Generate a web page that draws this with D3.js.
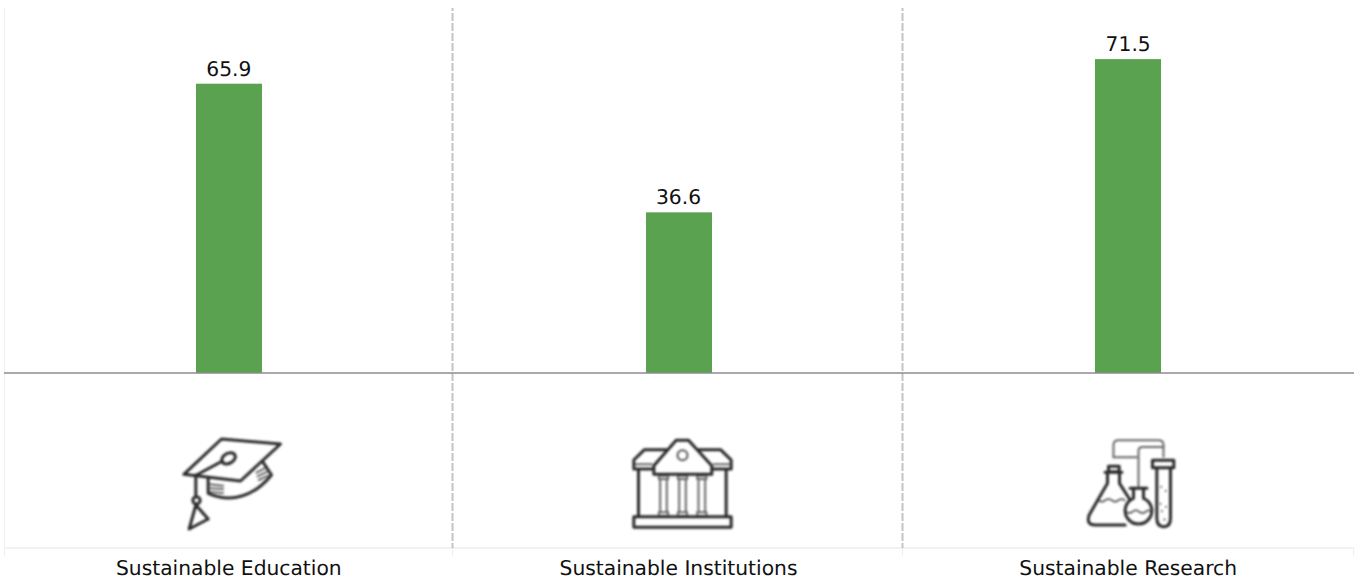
<!DOCTYPE html>
<html>
<head>
<meta charset="utf-8">
<script src="https://cdnjs.cloudflare.com/ajax/libs/d3/7.8.5/d3.min.js"></script>
<style>
  html, body { margin: 0; padding: 0; background: #fff; }
  svg { display: block; }
  text { font-family: "DejaVu Sans", sans-serif; font-size: 20.25px; fill: #111; text-rendering: geometricPrecision; }
</style>
</head>
<body>
<script>
const categories = ["Sustainable Education", "Sustainable Institutions", "Sustainable Research"];
const values = [65.9, 36.6, 71.5];

const width = 1356, height = 583;
const baseY = 373;

const svg = d3.select("body").append("svg").attr("width", width).attr("height", height);

const xScale = d3.scaleBand().domain(categories).range([4, 1353]);
const yScale = d3.scaleLinear().domain([0, 100]).range([baseY, baseY - 439]);
const barWidth = 66;
const centre = d => xScale(d) + xScale.bandwidth() / 2;

// slight blur, the icons in the original are scaled up bitmaps
svg.append("defs").append("filter").attr("id", "soft")
  .append("feGaussianBlur").attr("stdDeviation", 2.4);

// faint frame
svg.append("line").attr("x1", 4.5).attr("x2", 4.5).attr("y1", 8).attr("y2", 556)
  .style("stroke", "#efefef").style("stroke-width", 1);
svg.append("line").attr("x1", 4).attr("x2", 1354).attr("y1", 548).attr("y2", 548)
  .style("stroke", "#f2f2f2").style("stroke-width", 2);
svg.selectAll("line.stub")
  .data(categories.slice(1))
  .enter()
  .append("line")
  .attr("class", "stub")
  .attr("x1", d => Math.floor(xScale(d)) - 0.5)
  .attr("x2", d => Math.floor(xScale(d)) - 0.5)
  .attr("y1", 548)
  .attr("y2", 556)
  .style("stroke", "#efefef")
  .style("stroke-width", 1);
svg.append("line").attr("x1", 1353.5).attr("x2", 1353.5).attr("y1", 548).attr("y2", 556)
  .style("stroke", "#efefef").style("stroke-width", 1);

// dashed dividers
svg.selectAll("line.divider")
  .data(categories.slice(1))
  .enter()
  .append("line")
  .attr("class", "divider")
  .attr("x1", d => Math.floor(xScale(d)) - 0.5)
  .attr("x2", d => Math.floor(xScale(d)) - 0.5)
  .attr("y1", 8)
  .attr("y2", 548)
  .style("stroke", "#c4c4c4")
  .style("stroke-width", 2)
  .style("stroke-dasharray", "8,2")
  .style("stroke-dashoffset", 5);

// bars
svg.selectAll("rect.bar")
  .data(categories)
  .enter()
  .append("rect")
  .attr("class", "bar")
  .attr("x", d => Math.round(centre(d) - barWidth / 2))
  .attr("width", barWidth)
  .attr("y", (d, i) => yScale(values[i]))
  .attr("height", (d, i) => baseY - yScale(values[i]))
  .style("fill", "#5aa250");

// baseline
svg.append("line").attr("x1", 4).attr("x2", 1354).attr("y1", baseY).attr("y2", baseY)
  .style("stroke", "#8c8c8c").style("stroke-width", 1.5);

// value labels
svg.selectAll("text.value")
  .data(categories)
  .enter()
  .append("text")
  .attr("class", "value")
  .attr("x", d => centre(d))
  .attr("y", (d, i) => yScale(values[i]) - 8)
  .attr("text-anchor", "middle")
  .text((d, i) => values[i].toFixed(1));

// category labels
svg.selectAll("text.cat")
  .data(categories)
  .enter()
  .append("text")
  .attr("class", "cat")
  .attr("x", d => centre(d))
  .attr("y", 575)
  .attr("text-anchor", "middle")
  .text(d => d);

// icons, drawn at 3x and scaled down
const capPaths = [
  "M185,42 L362,57 L242,168 L72,148 Z",
  "M110,150 L188,108",
  "M145,160 L145,205 C190,225 265,235 335,150 L310,112",
  "M108,150 L108,215",
  "M108,240 L88,312 L145,282 Z"
];
const capThin = [
  "M150,178 L190,182", "M150,190 L190,192", "M150,201 L190,204",
  "M290,143 L318,128", "M293,154 L322,140", "M297,165 L325,152"
];
const bankPaths = [
  "M155,74 L90,74 L58,105 L58,132 L118,132",
  "M250,74 L318,74 L350,105 L350,132 L292,132",
  "M118,148 L118,122 L185,46 L222,46 L292,122 L292,148 Z",
  "M72,135 L72,272", "M335,135 L335,272",
  "M58,275 L350,275 L350,307 L58,307 Z"
];
const bankThin = [
  "M58,118 L112,118", "M298,118 L350,118",
  "M133,152 L161,152 L161,162 L133,162 Z", "M190,152 L218,152 L218,162 L190,162 Z", "M248,152 L276,152 L276,162 L248,162 Z",
  "M137,162 L137,262", "M157,162 L157,262", "M194,162 L194,262", "M214,162 L214,262", "M252,162 L252,262", "M272,162 L272,262",
  "M133,262 L161,262 L161,273 L133,273 Z", "M190,262 L218,262 L218,273 L190,273 Z", "M248,262 L276,262 L276,273 L248,273 Z"
];
const labPaths = [
  "M130,124 L162,124 L162,140 L130,140 Z",
  "M120,142 L170,142",
  "M127,142 L127,175 L72,270 Q62,300 90,300 L180,300",
  "M163,142 L163,175 L195,225",
  "M195,190 L245,190",
  "M205,190 L205,220 A40,40 0 1 0 235,220 L235,190",
  "M262,106 L326,106 L326,128 L262,128 Z",
  "M275,128 L275,280 Q275,305 296,305 Q316,305 316,280 L316,128"
];
const labThin = [
  "M145,97 L145,60 Q145,46 160,46 L280,46 Q295,46 295,60 L295,95",
  "M220,185 L220,78 Q220,66 232,66 L295,66",
  "M145,97 L215,97",
  "M100,226 Q110,234 120,226 T140,226 T160,226 T178,226",
  "M182,260 Q192,268 202,260 T222,260 T242,260 T256,260",
  "M288,185 l0,1", "M302,197 l0,1", "M286,236 l0,1", "M303,245 l0,1", "M290,258 l0,1", "M298,283 l0,1"
];
const icons = [
  { main: capPaths, thin: capThin, dx: -69 },
  { main: bankPaths, thin: bankThin, dx: -64 },
  { main: labPaths, thin: labThin, dx: -63 }
];

const iconG = svg.selectAll("g.icon")
  .data(categories)
  .enter()
  .append("g")
  .attr("class", "icon")
  .attr("transform", (d, i) => "translate(" + (centre(d) + icons[i].dx) + ",425) scale(0.3333)")
  .attr("filter", "url(#soft)")
  .style("fill", "none")
  .style("stroke-linejoin", "round")
  .style("stroke-linecap", "round");

iconG.each(function(d, i) {
  const g = d3.select(this);
  g.selectAll("path.thin").data(icons[i].thin).enter().append("path").attr("class", "thin")
    .attr("d", p => p).style("stroke", "#666").style("stroke-width", 6);
  g.selectAll("path.main").data(icons[i].main).enter().append("path").attr("class", "main")
    .attr("d", p => p).style("stroke", "#2a2a2a").style("stroke-width", 9);
  if (i === 0) {
    g.append("ellipse").attr("transform", "translate(206,100) rotate(-30)").attr("rx", 22).attr("ry", 15)
      .style("stroke", "#2a2a2a").style("stroke-width", 9);
    g.append("circle").attr("cx", 110).attr("cy", 226).attr("r", 11)
      .style("stroke", "#2a2a2a").style("stroke-width", 9);
  }
  if (i === 1) {
    g.append("circle").attr("cx", 204).attr("cy", 91).attr("r", 15)
      .style("stroke", "#555").style("stroke-width", 6);
  }
});
</script>
</body>
</html>
